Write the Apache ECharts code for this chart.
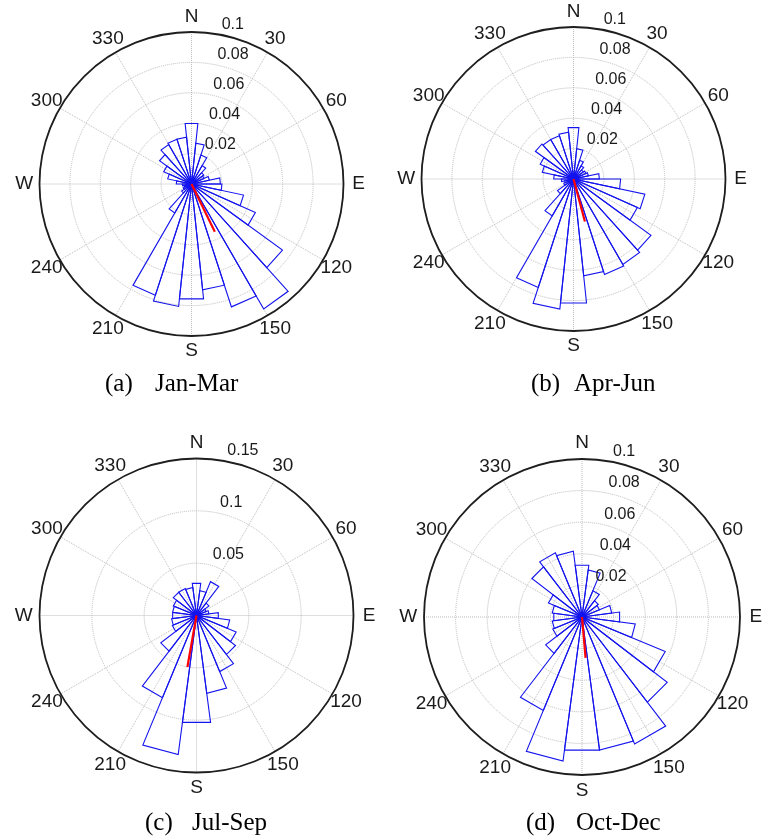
<!DOCTYPE html>
<html>
<head>
<meta charset="utf-8">
<script src="https://cdn.jsdelivr.net/npm/echarts@6/dist/echarts.min.js"></script>
<style>
  html, body { margin: 0; padding: 0; background: #fff; }
  #chart { width: 766px; height: 839px; }
</style>
</head>
<body>
<div id="chart"></div>
<script>
// Direction bins (compass degrees, bin centres)
const bins12 = [0, 12, 24, 36, 48, 60, 72, 84, 96, 108, 120, 132, 144, 156, 168,
                180, 192, 204, 216, 228, 240, 252, 264, 276, 288, 300, 312, 324, 336, 348];
const bins15 = [0, 15, 30, 45, 60, 75, 90, 105, 120, 135, 150, 165,
                180, 195, 210, 225, 240, 255, 270, 285, 300, 315, 330, 345];

// Relative frequency per direction bin
const freqJanMar = [0.040, 0.027, 0.020, 0.014, 0.010, 0.009, 0.012, 0.019, 0.020, 0.035,
                    0.046, 0.074, 0.095, 0.085, 0.070, 0.076, 0.081, 0.077, 0.022, 0.008,
                    0.006, 0.005, 0.006, 0.010, 0.016, 0.020, 0.026, 0.030, 0.031, 0.031];
const freqAprJun = [0.034, 0.020, 0.013, 0.010, 0.008, 0.009, 0.010, 0.017, 0.031, 0.048,
                    0.046, 0.063, 0.065, 0.066, 0.064, 0.082, 0.086, 0.075, 0.028, 0.013,
                    0.007, 0.006, 0.008, 0.013, 0.021, 0.024, 0.031, 0.030, 0.030, 0.031];
const freqJulSep = [0.031, 0.024, 0.035, 0.015, 0.010, 0.012, 0.021, 0.032, 0.041, 0.047,
                    0.058, 0.075, 0.103, 0.134, 0.085, 0.043, 0.025, 0.024, 0.023, 0.023,
                    0.024, 0.028, 0.028, 0.027];
const freqOctDec = [0.033, 0.030, 0.018, 0.013, 0.012, 0.019, 0.024, 0.034, 0.057, 0.068,
                    0.087, 0.085, 0.085, 0.092, 0.064, 0.029, 0.020, 0.019, 0.018, 0.019,
                    0.023, 0.040, 0.044, 0.042];

// Mean vector per season: [direction in degrees, length]
const meanJanMar = [154, 0.035];
const meanAprJun = [165, 0.029];
const meanJulSep = [190, 0.050];
const meanOctDec = [175, 0.026];

// Radial ticks
const ticksFine = [0.02, 0.04, 0.06, 0.08, 0.1];
const tickLabelsFine = ['0.02', '0.04', '0.06', '0.08', '0.1'];
const ticksCoarse = [0.05, 0.1, 0.15];
const tickLabelsCoarse = ['0.05', '0.1', '0.15'];

// Compass labels
const compassAngles = [0, 30, 60, 90, 120, 150, 180, 210, 240, 270, 300, 330];
const compassLabels = ['N', '30', '60', 'E', '120', '150', 'S', '210', '240', 'W', '300', '330'];

// Panel captions
const captionTags = ['(a)', '(b)', '(c)', '(d)'];
const captionNames = ['Jan-Mar', 'Apr-Jun', 'Jul-Sep', 'Oct-Dec'];

const panels = [
  { bins: bins12, freq: freqJanMar, mean: meanJanMar, ticks: ticksFine, tickLabels: tickLabelsFine, max: 0.1, step: 0.02,
    center: [191.5, 184], radius: 152, tag: [105, 384], name: [155, 384] },
  { bins: bins12, freq: freqAprJun, mean: meanAprJun, ticks: ticksFine, tickLabels: tickLabelsFine, max: 0.1, step: 0.02,
    center: [573.5, 179], radius: 152, tag: [531, 384], name: [574, 384] },
  { bins: bins15, freq: freqJulSep, mean: meanJulSep, ticks: ticksCoarse, tickLabels: tickLabelsCoarse, max: 0.15, step: 0.05,
    center: [196.5, 615.5], radius: 157, tag: [145, 823], name: [192, 823] },
  { bins: bins15, freq: freqOctDec, mean: meanOctDec, ticks: ticksFine, tickLabels: tickLabelsFine, max: 0.1, step: 0.02,
    center: [582, 617], radius: 158, tag: [526, 823], name: [576, 823] }
];

const sansFont = '"Liberation Sans", Arial, sans-serif';
const serifFont = '"Liberation Serif", "Times New Roman", serif';

const polar = [], angleAxis = [], radiusAxis = [], series = [], graphic = [];

panels.forEach((p, i) => {
  polar.push({ center: p.center, radius: p.radius });
  angleAxis.push({
    polarIndex: i, type: 'value', min: 0, max: 360, interval: 30,
    startAngle: 90, clockwise: true,
    axisLine: { show: true, lineStyle: { color: '#1e1e1e', width: 1.8 } },
    axisTick: { show: false }, axisLabel: { show: false },
    splitLine: { show: true, lineStyle: { color: '#bcbcbc', type: 'dotted', width: 1 } }
  });
  radiusAxis.push({
    polarIndex: i, type: 'value', min: 0, max: p.max, interval: p.step,
    axisLine: { show: false }, axisTick: { show: false }, axisLabel: { show: false },
    splitLine: { show: true, lineStyle: { color: '#bcbcbc', type: 'dotted', width: 1 } }
  });

  const halfWidth = 180 / p.bins.length;

  // Rose wedges: triangle from the centre with a straight outer edge
  series.push({
    type: 'custom', coordinateSystem: 'polar', polarIndex: i, clip: false, silent: true, z: 3,
    data: p.bins.map((a, k) => [p.freq[k], a]),
    renderItem: (params, api) => {
      const r = api.value(0), a = api.value(1);
      const c = api.coord([0, a]);
      const p1 = api.coord([r, a - halfWidth]);
      const p2 = api.coord([r, a + halfWidth]);
      return {
        type: 'polygon',
        shape: { points: [c, p1, p2] },
        style: { fill: 'none', stroke: '#1414ee', lineWidth: 1.1 }
      };
    }
  });

  // Mean direction vector
  series.push({
    type: 'line', coordinateSystem: 'polar', polarIndex: i, silent: true, z: 4,
    symbol: 'none', animation: false,
    data: [[0, p.mean[0]], [p.mean[1], p.mean[0]]],
    lineStyle: { color: '#ff0000', width: 2.2 }
  });

  // Radial tick labels along a ray just east of north
  series.push({
    type: 'custom', coordinateSystem: 'polar', polarIndex: i, clip: false, silent: true, z: 5,
    data: p.ticks.map(v => [v, 8]),
    renderItem: (params, api) => {
      const pt = api.coord([api.value(0), api.value(1)]);
      return {
        type: 'text', x: pt[0] + 9, y: pt[1] - 1,
        style: { text: p.tickLabels[params.dataIndex], fill: '#1a1a1a',
                 font: '16px ' + sansFont, align: 'left', verticalAlign: 'bottom' }
      };
    }
  });

  // Compass labels outside the rim
  series.push({
    type: 'custom', coordinateSystem: 'polar', polarIndex: i, clip: false, silent: true, z: 5,
    data: compassAngles.map(a => [p.max * 1.1, a]),
    renderItem: (params, api) => {
      const pt = api.coord([api.value(0), api.value(1)]);
      return {
        type: 'text', x: pt[0], y: pt[1],
        style: { text: compassLabels[params.dataIndex], fill: '#1a1a1a',
                 font: '19px ' + sansFont, align: 'center', verticalAlign: 'middle' }
      };
    }
  });

  graphic.push({
    type: 'text', x: p.tag[0], y: p.tag[1],
    style: { text: captionTags[i], fill: '#000', font: '25px ' + serifFont, verticalAlign: 'middle' }
  });
  graphic.push({
    type: 'text', x: p.name[0], y: p.name[1],
    style: { text: captionNames[i], fill: '#000', font: '25px ' + serifFont, verticalAlign: 'middle' }
  });
});

const chart = echarts.init(document.getElementById('chart'), null, { renderer: 'canvas' });
chart.setOption({
  animation: false,
  backgroundColor: '#ffffff',
  polar, angleAxis, radiusAxis, series, graphic
});
</script>
</body>
</html>
